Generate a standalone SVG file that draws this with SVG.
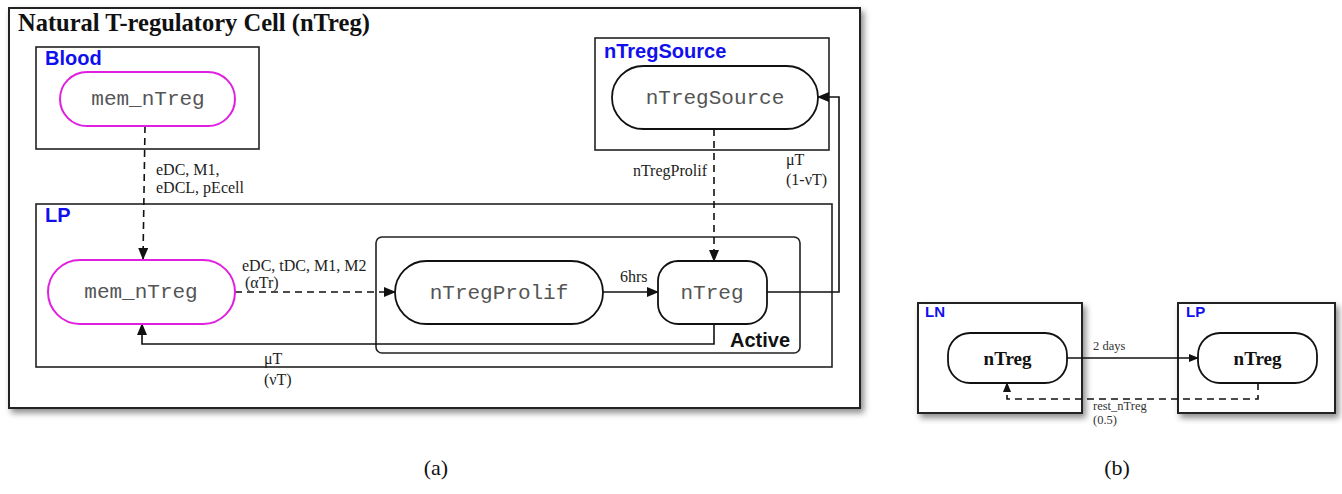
<svg xmlns="http://www.w3.org/2000/svg" width="1342" height="494" viewBox="0 0 1342 494">
  <style>
    .frame { fill: #fff; stroke: #222; stroke-width: 2; }
    .box { fill: none; stroke: #222; stroke-width: 1.6; }
    .pill { fill: #fff; stroke: #111; stroke-width: 1.8; }
    .mem { fill: #fff; stroke: #e020e0; stroke-width: 2; }
    .region { font-family: "Liberation Sans", Arial, sans-serif; font-weight: bold; fill: #1010ee; }
    .mono { font-family: "Liberation Mono", "Courier New", monospace; font-size: 21px; fill: #555; text-anchor: middle; }
    .lbl { font-family: "Liberation Serif", "Times New Roman", serif; font-size: 16px; fill: #222; }
    .small { font-family: "Liberation Serif", "Times New Roman", serif; font-size: 12.5px; fill: #333; }
    .bnode { font-family: "Liberation Serif", "Times New Roman", serif; font-size: 19px; font-weight: bold; fill: #111; text-anchor: middle; }
    .cap { font-family: "Liberation Serif", "Times New Roman", serif; font-size: 22px; fill: #111; text-anchor: middle; }
    .solid { fill: none; stroke: #111; stroke-width: 1.6; }
    .dash { fill: none; stroke: #111; stroke-width: 1.6; stroke-dasharray: 7 5; }
  </style>
  <defs>
    <filter id="shadow" x="-5%" y="-5%" width="112%" height="115%">
      <feDropShadow dx="3" dy="4" stdDeviation="3" flood-color="#000" flood-opacity="0.45"/>
    </filter>
    <marker id="arrow" markerWidth="12" markerHeight="10" refX="11" refY="5" orient="auto" markerUnits="userSpaceOnUse">
      <path d="M0,0 L12,5 L0,10 Z" fill="#111"/>
    </marker>
    <marker id="arrowS" markerWidth="10" markerHeight="8" refX="9" refY="4" orient="auto" markerUnits="userSpaceOnUse">
      <path d="M0,0 L10,4 L0,8 Z" fill="#111"/>
    </marker>
  </defs>

  <!-- panel (a): outer frame -->
  <g id="panel-a">
    <rect class="frame" x="9" y="8" width="851" height="400" filter="url(#shadow)"/>
    <text x="18" y="31" font-family="'Liberation Serif', 'Times New Roman', serif" font-size="24.5" font-weight="bold" fill="#111">Natural T-regulatory Cell (nTreg)</text>
  </g>

  <!-- compartments -->
  <g id="blood">
    <rect class="box" x="36" y="47" width="223" height="102"/>
    <text class="region" x="45" y="65" font-size="20">Blood</text>
  </g>
  <g id="nTregSource-box">
    <rect class="box" x="595" y="38" width="234" height="112"/>
    <text class="region" x="604" y="58" font-size="20">nTregSource</text>
  </g>
  <g id="lp">
    <rect class="box" x="36" y="204" width="796" height="163"/>
    <text class="region" x="45" y="222" font-size="20">LP</text>
  </g>
  <g id="active">
    <rect class="box" x="376" y="237" width="424" height="116" rx="6"/>
    <text x="790" y="347" font-family="'Liberation Sans', Arial, sans-serif" font-weight="bold" font-size="20" fill="#111" text-anchor="end">Active</text>
  </g>

  <!-- connectors of panel (a) -->
  <g id="connectors-a">
    <path class="dash" d="M145,126 L143,259" marker-end="url(#arrow)"/>
    <path class="dash" d="M235,292 L395,292" marker-end="url(#arrow)"/>
    <path class="solid" d="M603,292 L658,292" marker-end="url(#arrow)"/>
    <path class="dash" d="M714,129 L714,261" marker-end="url(#arrow)"/>
    <path class="solid" d="M767,292 L839,292 L839,97 L818,97" marker-end="url(#arrow)"/>
    <path class="solid" d="M714,324 L714,344 L142,344 L142,324" marker-end="url(#arrow)"/>
    <text class="lbl" x="156" y="175">eDC, M1,</text>
    <text class="lbl" x="156" y="193">eDCL, pEcell</text>
    <text class="lbl" x="242" y="271">eDC, tDC, M1, M2</text>
    <text class="lbl" x="245" y="288">(αTr)</text>
    <text class="lbl" x="620" y="282">6hrs</text>
    <text class="lbl" x="707" y="176" text-anchor="end">nTregProlif</text>
    <text class="lbl" x="786" y="165">μT</text>
    <text class="lbl" x="786" y="185">(1-νT)</text>
    <text class="lbl" x="264" y="364">μT</text>
    <text class="lbl" x="264" y="385">(νT)</text>
  </g>

  <!-- nodes of panel (a) -->
  <g id="blood-mem_nTreg">
    <rect class="mem" x="60" y="72" width="175" height="54" rx="27"/>
    <text class="mono" x="148" y="105">mem_nTreg</text>
  </g>
  <g id="lp-mem_nTreg">
    <rect class="mem" x="48" y="260" width="187" height="64" rx="32"/>
    <text class="mono" x="141" y="298">mem_nTreg</text>
  </g>
  <g id="nTregSource">
    <rect class="pill" x="612" y="66" width="206" height="63" rx="31.5"/>
    <text class="mono" x="715" y="104">nTregSource</text>
  </g>
  <g id="nTregProlif">
    <rect class="pill" x="395" y="261" width="208" height="63" rx="31.5"/>
    <text class="mono" x="499" y="299">nTregProlif</text>
  </g>
  <g id="nTreg">
    <rect class="pill" x="658" y="261" width="109" height="63" rx="20"/>
    <text class="mono" x="712" y="299">nTreg</text>
  </g>

  <!-- panel (b) -->
  <g id="ln">
    <rect class="frame" x="918" y="303" width="164" height="110" filter="url(#shadow)" stroke-width="1.8"/>
    <text class="region" x="925" y="317" font-size="15">LN</text>
  </g>
  <g id="lp-b">
    <rect class="frame" x="1178" y="303" width="157" height="110" filter="url(#shadow)" stroke-width="1.8"/>
    <text class="region" x="1186" y="317" font-size="15">LP</text>
  </g>
  <g id="connectors-b">
    <path class="solid" d="M1067,358 L1198,358" marker-end="url(#arrowS)"/>
    <path class="dash" d="M1258,383 L1258,399 L1007,399 L1007,383" marker-end="url(#arrowS)" stroke-dasharray="6 4"/>
    <text class="small" x="1093" y="350">2 days</text>
    <text class="small" x="1093" y="410">rest_nTreg</text>
    <text class="small" x="1093" y="424">(0.5)</text>
  </g>
  <g id="ln-nTreg">
    <rect class="pill" x="948" y="333" width="119" height="50" rx="22"/>
    <text class="bnode" x="1007.5" y="365">nTreg</text>
  </g>
  <g id="lp-nTreg">
    <rect class="pill" x="1198" y="333" width="119" height="50" rx="22"/>
    <text class="bnode" x="1257.5" y="365">nTreg</text>
  </g>

  <!-- captions -->
  <text class="cap" x="436" y="475">(a)</text>
  <text class="cap" x="1117" y="475">(b)</text>
</svg>
